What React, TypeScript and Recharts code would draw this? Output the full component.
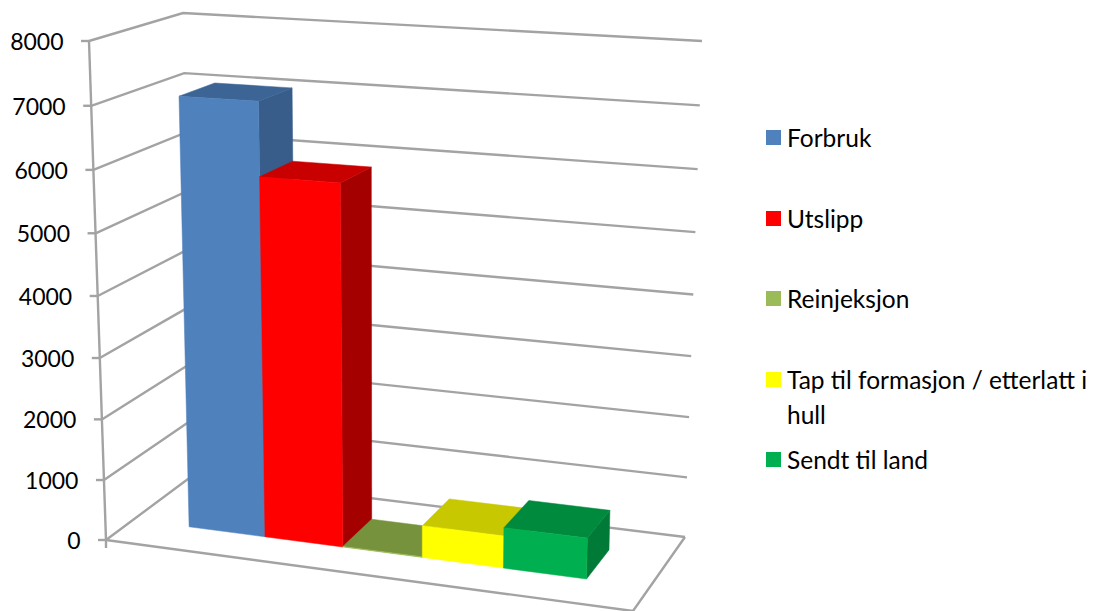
import { Bar, BarChart, CartesianGrid, Legend, XAxis, YAxis } from "recharts";

const seriesNames = ["Forbruk", "Utslipp", "Reinjeksjon", "Tap til formasjon / etterlatt i hull", "Sendt til land"];
const seriesValues = [7045, 5860, 10, 520, 655];
const yTicks = [0, 1000, 2000, 3000, 4000, 5000, 6000, 7000, 8000];

// front, top and side shade of each column
const shades = [
  { front: "#4f81bd", top: "#3c6596", side: "#385d8a" },
  { front: "#ff0000", top: "#c80000", side: "#a50000" },
  { front: "#9bbb59", top: "#76923c", side: "#76923c" },
  { front: "#ffff00", top: "#c8c800", side: "#a6a600" },
  { front: "#00b050", top: "#008a3e", side: "#007a37" },
];

const row: Record<string, string | number> = { name: "" };
seriesNames.forEach((n, i) => {
  row[n] = seriesValues[i];
});
const data = [row];

// flat plot rectangle that the box projection below starts from
const PLOT_LEFT = 100;
const PLOT_TOP = 50;
const PLOT_SIZE = 500;

const GRID = "#a3a3a3";
const FONT = "Lato, sans-serif";

type Pt = [number, number];

// box corners: floor and ceiling, front and back
const floor = { fl: [106, 540], fr: [633, 611], bl: [192, 476], br: [685, 537] };
const ceil = { fl: [89, 41], fr: [644, 71], bl: [183, 13], br: [702, 41] };

const bilerp = (c: typeof floor, u: number, w: number): Pt => {
  const f = (k: number) =>
    (1 - w) * ((1 - u) * c.fl[k] + u * c.fr[k]) + w * ((1 - u) * c.bl[k] + u * c.br[k]);
  return [f(0), f(1)];
};

// u across, v up, w into the box, all 0..1; the two bends fake the perspective
const project = (u: number, v: number, w: number): Pt => {
  const bu = u - 0.072 * u * (1 - u);
  const bv = v - 0.044 * v * (1 - v);
  const a = bilerp(floor, bu, w);
  const b = bilerp(ceil, bu, w);
  return [a[0] + (b[0] - a[0]) * bv, a[1] + (b[1] - a[1]) * bv];
};

const toV = (y: number) => (PLOT_TOP + PLOT_SIZE - y) / PLOT_SIZE;
const toU = (x: number) => (x - PLOT_LEFT) / PLOT_SIZE;
const pts = (list: Pt[]) => list.map((p) => `${p[0].toFixed(1)},${p[1].toFixed(1)}`).join(" ");

const WALL = { stroke: GRID, strokeWidth: 2.4, fill: "none" };

function GridLine(props: any) {
  const v = toV(props.y1);
  const isFloor = v < 0.001;
  return (
    <g key={props.key ?? `grid-${props.y1}`}>
      <polyline {...WALL} points={pts([project(0, v, 0), project(0, v, 1), project(1, v, 1)])} />
      {isFloor && (
        <>
          <polyline {...WALL} points={pts([project(1, 0, 1), project(1, 0, 0), project(0, 0, 0)])} />
          <polyline {...WALL} points={pts([project(0, 1, 0), project(0, 0, 0)])} />
        </>
      )}
    </g>
  );
}

function AxisTick({ y, payload }: any) {
  const [ax, ay] = project(0, toV(y), 0);
  return (
    <g>
      <line x1={ax - 8} y1={ay} x2={ax} y2={ay} stroke={GRID} strokeWidth={2.4} />
      {payload.value === 0 && <line x1={ax} y1={ay} x2={ax} y2={ay + 8} stroke={GRID} strokeWidth={2.4} />}
      <text x={ax - 25.5} y={ay + 9} textAnchor="end" fontFamily={FONT} fontSize={23} fill="#000">
        {payload.value}
      </text>
    </g>
  );
}

const DEPTH_FRONT = 0.32;
const DEPTH_BACK = 0.72;

// column as a box: top and right side first, the front face over them
const column = (index: number) => (props: any) => {
  const { x, y, width } = props;
  const u0 = toU(x);
  const u1 = toU(x + width);
  const v = toV(y);
  const s = shades[index];
  const face = (list: Pt[], color: string) => (
    <polygon points={pts(list)} fill={color} stroke={color} strokeWidth={0.5} />
  );
  return (
    <g>
      {face(
        [project(u1, 0, DEPTH_FRONT), project(u1, 0, DEPTH_BACK), project(u1, v, DEPTH_BACK), project(u1, v, DEPTH_FRONT)],
        s.side,
      )}
      {face(
        [project(u0, v, DEPTH_FRONT), project(u1, v, DEPTH_FRONT), project(u1, v, DEPTH_BACK), project(u0, v, DEPTH_BACK)],
        s.top,
      )}
      {face(
        [project(u0, 0, DEPTH_FRONT), project(u1, 0, DEPTH_FRONT), project(u1, v, DEPTH_FRONT), project(u0, v, DEPTH_FRONT)],
        s.front,
      )}
    </g>
  );
};

function LegendList({ payload }: any) {
  return (
    <div style={{ fontFamily: FONT, fontSize: 24.5, lineHeight: "35px", color: "#000" }}>
      {(payload ?? []).map((item: any) => (
        <div key={item.value} style={{ display: "flex", height: 80.5 }}>
          <span
            style={{ width: 15, height: 15, marginTop: 10, marginRight: 6, flex: "none", background: item.color }}
          />
          <span>{item.value}</span>
        </div>
      ))}
    </div>
  );
}

export default function App() {
  return (
    <div style={{ position: "absolute", left: 0, top: 0, background: "#fff" }}>
      <BarChart
        width={1098}
        height={611}
        data={data}
        barGap={0}
        barCategoryGap="11.5%"
        margin={{ top: PLOT_TOP, left: 0, right: 1098 - PLOT_LEFT - PLOT_SIZE, bottom: 611 - PLOT_TOP - PLOT_SIZE }}
        style={{ overflow: "visible" }}
      >
        <CartesianGrid vertical={false} horizontal={GridLine} />
        <XAxis dataKey="name" hide />
        <YAxis
          width={PLOT_LEFT}
          domain={[0, 8000]}
          ticks={yTicks}
          interval={0}
          axisLine={false}
          tickLine={false}
          tick={AxisTick}
        />
        <Legend
          layout="vertical"
          align="center"
          verticalAlign="middle"
          width={332}
          content={LegendList}
          itemSorter={null}
          wrapperStyle={{ left: 766, top: 120 }}
        />
        {seriesNames.map((n, i) => (
          <Bar key={n} dataKey={n} fill={shades[i].front} shape={column(i)} isAnimationActive={false} />
        ))}
      </BarChart>
    </div>
  );
}
